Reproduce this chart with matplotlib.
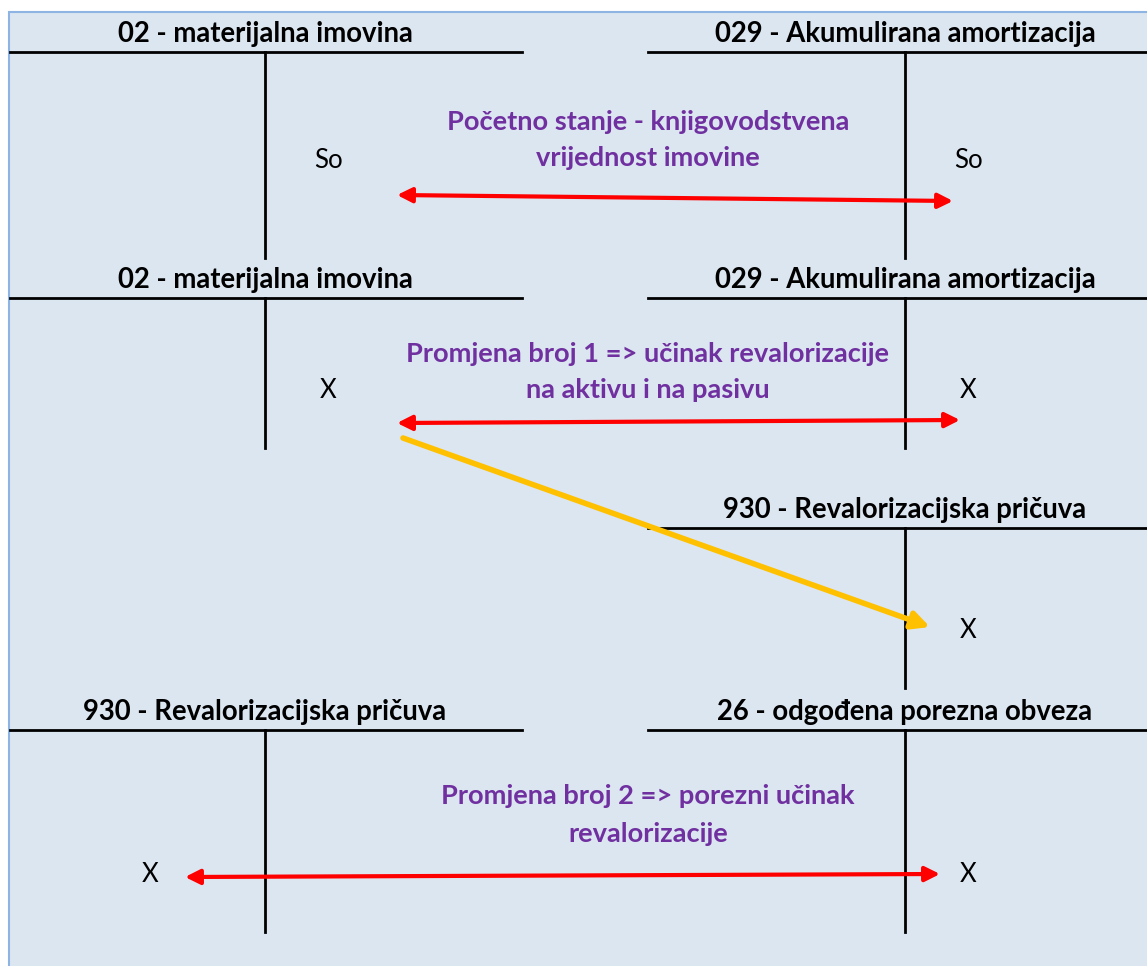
import matplotlib.pyplot as plt
from matplotlib.patches import Rectangle

# T-account titles and entries
left_titles = ['02 - materijalna imovina', '02 - materijalna imovina', None,
               '930 - Revalorizacijska pričuva']
right_titles = ['029 - Akumulirana amortizacija', '029 - Akumulirana amortizacija',
                '930 - Revalorizacijska pričuva', '26 - odgođena porezna obveza']
left_entries = ['So', 'X', None, 'X']
right_entries = ['So', 'X', 'X', 'X']
notes = ['Početno stanje - knjigovodstvena\nvrijednost imovine',
         'Promjena broj 1 => učinak revalorizacije\nna aktivu i na pasivu',
         None,
         'Promjena broj 2 => porezni učinak\nrevalorizacije']

# layout (pixels in a 1147x966 canvas)
row_line = [52, 298, 528, 730]
row_bottom = [258, 448, 688, 932]
left_x = [328, 328, None, 150]
entry_y = [160, 390, 630, 875]
note_y = [140, 372, None, 815]
arrows = [((397, 195), (953, 201)), ((397, 423), (960, 420)), None, ((185, 877), (940, 874))]

bg = '#DCE6F1'
purple = '#7030A0'
font = ['Lato', 'DejaVu Sans']

fig = plt.figure(figsize=(11.47, 9.66), dpi=100)
ax = fig.add_axes([0, 0, 1, 1])
ax.set_xlim(0, 1147)
ax.set_ylim(966, 0)
ax.axis('off')

ax.add_patch(Rectangle((9, 12), 1147, 966, facecolor=bg, edgecolor='#8DB4E2', lw=1.5))

for i in range(4):
    yl, yb = row_line[i], row_bottom[i]
    if left_titles[i]:
        ax.plot([10, 522], [yl, yl], color='black', lw=2)
        ax.plot([265, 265], [yl, yb], color='black', lw=2)
        ax.text(265, yl - 5, left_titles[i], ha='center', va='bottom',
                fontsize=19.8, fontweight='bold', family=font)
    ax.plot([648, 1147], [yl, yl], color='black', lw=2)
    ax.plot([905, 905], [yl, yb], color='black', lw=2)
    ax.text(905, yl - 5, right_titles[i], ha='center', va='bottom',
            fontsize=19.8, fontweight='bold', family=font)
    if left_entries[i]:
        ax.text(left_x[i], entry_y[i], left_entries[i], ha='center', va='center',
                fontsize=18.5, family=font)
    ax.text(968, entry_y[i], right_entries[i], ha='center', va='center',
            fontsize=18.5, family=font)
    if notes[i]:
        ax.text(648, note_y[i], notes[i], ha='center', va='center', color=purple,
                fontsize=19.6, fontweight='bold', family=font, linespacing=1.65)
    if arrows[i]:
        (x0, y0), (x1, y1) = arrows[i]
        ax.annotate('', xy=(x1, y1), xytext=(x0, y0),
                    arrowprops=dict(arrowstyle='<|-|>', color='#FF0000', lw=3,
                                    mutation_scale=22, shrinkA=0, shrinkB=0))

# revaluation reserve arrow
ax.annotate('', xy=(930, 627), xytext=(403, 438),
            arrowprops=dict(arrowstyle='-|>', color='#FFC000', lw=4,
                            mutation_scale=26, shrinkA=0, shrinkB=0))

fig.savefig('out.png', dpi=100)
